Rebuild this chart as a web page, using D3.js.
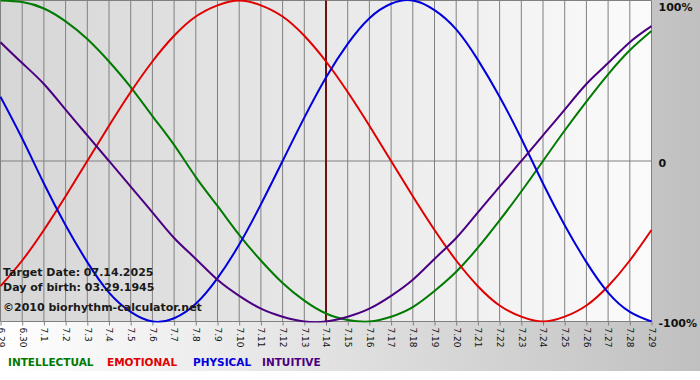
<!DOCTYPE html>
<html>
<head>
<meta charset="utf-8">
<script src="https://cdn.jsdelivr.net/npm/d3@7"></script>
<style>
  html, body { margin: 0; padding: 0; background: #fff; }
  svg { display: block; }
</style>
</head>
<body>
<script>
const width = 700;
const height = 380;
const margin = {top: 0, right: 49, bottom: 59, left: 0};

// days shown (month.day)
const days = ['6.29', '6.30', '7.1', '7.2', '7.3', '7.4', '7.5', '7.6', '7.7', '7.8', '7.9', '7.10',
  '7.11', '7.12', '7.13', '7.14', '7.15', '7.16', '7.17', '7.18', '7.19', '7.20', '7.21', '7.22',
  '7.23', '7.24', '7.25', '7.26', '7.27', '7.28', '7.29'];
const target_day = '7.14';

// values, -1 .. 1
const intellectual = [1.00, 0.99, 0.95, 0.87, 0.76, 0.62, 0.46, 0.28, 0.10, -0.10, -0.28, -0.46,
  -0.62, -0.76, -0.87, -0.95, -0.99, -1.00, -0.97, -0.91, -0.81, -0.69, -0.54, -0.37, -0.19,
  0.00, 0.19, 0.37, 0.54, 0.69, 0.81];
const emotional = [-0.78, -0.62, -0.43, -0.22, 0.00, 0.22, 0.43, 0.62, 0.78, 0.90, 0.97, 1.00,
  0.97, 0.90, 0.78, 0.62, 0.43, 0.22, 0.00, -0.22, -0.43, -0.62, -0.78, -0.90, -0.97, -1.00,
  -0.97, -0.90, -0.78, -0.62, -0.43];
const physical = [0.40, 0.14, -0.14, -0.40, -0.63, -0.82, -0.94, -1.00, -0.98, -0.89, -0.73,
  -0.52, -0.27, 0.00, 0.27, 0.52, 0.73, 0.89, 0.98, 1.00, 0.94, 0.82, 0.63, 0.40, 0.14, -0.14,
  -0.40, -0.63, -0.82, -0.94, -1.00];
const intuitive = [0.74, 0.61, 0.48, 0.32, 0.16, 0.00, -0.16, -0.32, -0.48, -0.61, -0.74, -0.84,
  -0.92, -0.97, -1.00, -1.00, -0.97, -0.92, -0.84, -0.74, -0.61, -0.48, -0.32, -0.16, 0.00,
  0.16, 0.32, 0.48, 0.61, 0.74, 0.84];

const series_names = ['INTELLECTUAL', 'EMOTIONAL', 'PHYSICAL', 'INTUITIVE'];
const series_values = [intellectual, emotional, physical, intuitive];
const series_colors = ['#007a00', '#e00000', '#0000dd', '#4b0082'];

const y_ticks = [1, 0, -1];
const y_labels = ['100%', '0', '-100%'];

const info_lines = ['Target Date: 07.14.2025', 'Day of birth: 03.29.1945', '\u00a92010 biorhythm-calculator.net'];

const svg = d3.select('body').append('svg').attr('width', width).attr('height', height);

const defs = svg.append('defs');
const outerGrad = defs.append('linearGradient').attr('id', 'outer');
outerGrad.append('stop').attr('offset', '0%').attr('stop-color', '#ffffff');
outerGrad.append('stop').attr('offset', '100%').attr('stop-color', '#c0c0c0');
const plotGrad = defs.append('linearGradient').attr('id', 'plot');
plotGrad.append('stop').attr('offset', '0%').attr('stop-color', '#d6d6d6');
plotGrad.append('stop').attr('offset', '100%').attr('stop-color', '#fbfbfb');

const x = d3.scalePoint()
  .domain(days)
  .range([margin.left + 0.5, width - margin.right + 0.5]);

const y = d3.scaleLinear()
  .domain([-1, 1])
  .range([height - margin.bottom + 0.5, margin.top + 0.5]);

// backgrounds
svg.append('rect').attr('x', 0).attr('y', 0).attr('width', width).attr('height', 371)
  .attr('fill', 'url(#outer)');
svg.append('rect')
  .attr('x', x.range()[0]).attr('y', y(1))
  .attr('width', x.range()[1] - x.range()[0]).attr('height', y(-1) - y(1))
  .attr('fill', 'url(#plot)');

// vertical day lines + ticks
const xAxis = g => g
  .attr('transform', `translate(0,${y(-1)})`)
  .call(d3.axisBottom(x).tickSize(4).tickSizeOuter(0))
  .call(g => g.select('.domain').remove())
  .call(g => g.selectAll('.tick line').attr('stroke', '#808080'))
  .call(g => g.selectAll('.tick text')
    .attr('transform', 'rotate(90)')
    .attr('x', 6).attr('y', 0).attr('dy', '0.35em')
    .attr('text-anchor', 'start')
    .attr('fill', '#111')
    .attr('font-family', '"DejaVu Sans", Verdana, sans-serif')
    .attr('font-size', 9));

svg.append('g')
  .selectAll('line')
  .data(days)
  .join('line')
  .attr('x1', d => x(d)).attr('x2', d => x(d))
  .attr('y1', y(1)).attr('y2', y(-1))
  .attr('stroke', '#808080').attr('stroke-width', 1);

svg.append('g')
  .selectAll('line')
  .data(y_ticks)
  .join('line')
  .attr('x1', x.range()[0]).attr('x2', x.range()[1])
  .attr('y1', d => y(d)).attr('y2', d => y(d))
  .attr('stroke', '#808080').attr('stroke-width', 1);

svg.append('g').call(xAxis);

// y labels on the right
svg.append('g')
  .selectAll('text')
  .data(y_ticks)
  .join('text')
  .attr('x', x.range()[1] + 7)
  .attr('y', (d, i) => i === 0 ? y(d) + 10.5 : i === 1 ? y(d) + 5.5 : y(d) + 5)
  .attr('font-family', '"DejaVu Sans", Verdana, sans-serif')
  .attr('font-weight', 'bold')
  .attr('font-size', 11)
  .attr('fill', '#111')
  .text((d, i) => y_labels[i]);

// target date line
svg.append('line')
  .attr('x1', x(target_day)).attr('x2', x(target_day))
  .attr('y1', y(1)).attr('y2', y(-1))
  .attr('stroke', '#701010').attr('stroke-width', 2);

// curves
const line = d3.line()
  .x((d, i) => x(days[i]))
  .y(d => y(d))
  .curve(d3.curveNatural);

const clip = defs.append('clipPath').attr('id', 'clip').append('rect')
  .attr('x', x.range()[0] - 1).attr('y', y(1) - 1)
  .attr('width', x.range()[1] - x.range()[0] + 2).attr('height', y(-1) - y(1) + 2);

svg.append('g').attr('clip-path', 'url(#clip)')
  .selectAll('path')
  .data(series_values)
  .join('path')
  .attr('fill', 'none')
  .attr('stroke', (d, i) => series_colors[i])
  .attr('stroke-width', 2)
  .attr('stroke-linejoin', 'round')
  .attr('d', line);

// info text
svg.append('g')
  .selectAll('text')
  .data(info_lines)
  .join('text')
  .attr('x', 3)
  .attr('y', (d, i) => [276, 291, 311][i])
  .attr('font-family', '"DejaVu Sans", Verdana, sans-serif')
  .attr('font-weight', 'bold')
  .attr('font-size', 11)
  .attr('fill', '#1a1a1a')
  .text(d => d);

// legend
const legend_x = [8, 107, 193, 262];
svg.append('g')
  .selectAll('text')
  .data(series_names)
  .join('text')
  .attr('x', (d, i) => legend_x[i])
  .attr('y', 366)
  .attr('font-family', '"DejaVu Sans", Verdana, sans-serif')
  .attr('font-weight', 'bold')
  .attr('font-size', 10.5)
  .attr('fill', (d, i) => series_colors[i])
  .text(d => d);
</script>
</body>
</html>
